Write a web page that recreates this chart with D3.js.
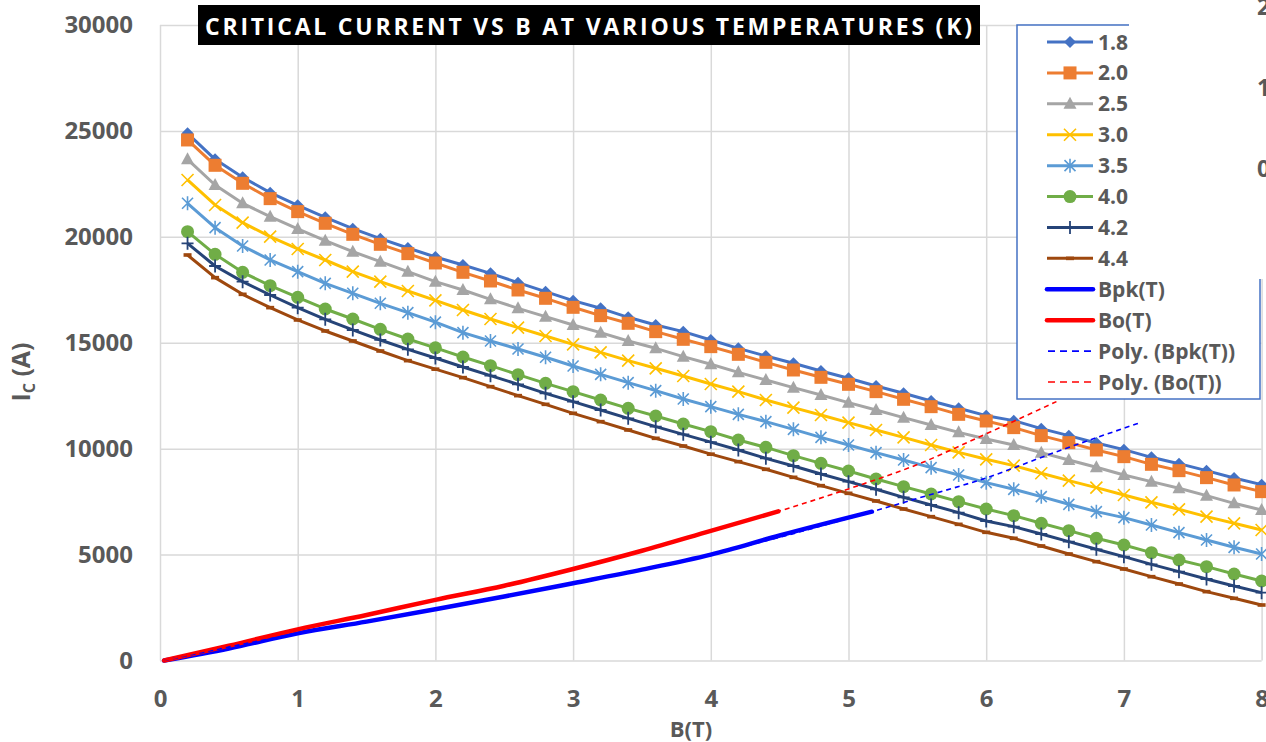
<!DOCTYPE html>
<html>
<head>
<meta charset="utf-8">
<script src="https://cdn.jsdelivr.net/npm/d3@7"></script>
<style>
  body { margin: 0; background: #fff; }
  svg { display: block; font-family: "Open Sans", "Liberation Sans", sans-serif; }
</style>
</head>
<body>
<svg id="chart" width="1266" height="742"></svg>
<script>
// ---- data -------------------------------------------------------------
const fieldB = [0.2, 0.4, 0.6, 0.8, 1.0, 1.2, 1.4, 1.6, 1.8, 2.0,
                2.2, 2.4, 2.6, 2.8, 3.0, 3.2, 3.4, 3.6, 3.8, 4.0,
                4.2, 4.4, 4.6, 4.8, 5.0, 5.2, 5.4, 5.6, 5.8, 6.0,
                6.2, 6.4, 6.6, 6.8, 7.0, 7.2, 7.4, 7.6, 7.8, 8.0];

const ic18 = [24887, 23660, 22810, 22086, 21488, 20922, 20387, 19915, 19474, 19050,
              18672, 18278, 17838, 17413, 16988, 16626, 16201, 15839, 15524, 15131,
              14737, 14375, 14029, 13667, 13321, 12959, 12613, 12251, 11905, 11558,
              11323, 10945, 10614, 10268, 9953, 9591, 9292, 8962, 8616, 8301];
const ic20 = [24573, 23377, 22527, 21803, 21189, 20639, 20119, 19647, 19207, 18766,
              18325, 17916, 17491, 17098, 16673, 16280, 15918, 15524, 15162, 14816,
              14454, 14076, 13714, 13368, 13038, 12692, 12330, 11983, 11621, 11307,
              10993, 10615, 10284, 9938, 9623, 9261, 8962, 8632, 8286, 7971];
const ic25 = [23660, 22448, 21583, 20953, 20371, 19820, 19301, 18829, 18357, 17884,
              17491, 17051, 16626, 16232, 15839, 15477, 15083, 14737, 14344, 13982,
              13604, 13242, 12880, 12534, 12172, 11826, 11464, 11118, 10771, 10457,
              10174, 9812, 9466, 9120, 8758, 8443, 8128, 7782, 7420, 7106];
const ic30 = [22684, 21504, 20670, 20009, 19427, 18907, 18357, 17884, 17444, 17003,
              16547, 16122, 15713, 15320, 14926, 14548, 14155, 13793, 13431, 13053,
              12692, 12298, 11936, 11590, 11228, 10882, 10535, 10174, 9827, 9497,
              9199, 8837, 8490, 8160, 7814, 7467, 7137, 6791, 6476, 6161];
const ic35 = [21583, 20434, 19568, 18907, 18357, 17806, 17334, 16862, 16421, 15972,
              15477, 15083, 14706, 14313, 13903, 13510, 13116, 12739, 12345, 11983,
              11621, 11275, 10913, 10535, 10174, 9812, 9465, 9104, 8757, 8395,
              8081, 7735, 7373, 7027, 6744, 6397, 6036, 5689, 5343, 5028];
const ic40 = [20245, 19175, 18325, 17696, 17145, 16594, 16122, 15634, 15178, 14760,
              14328, 13919, 13494, 13085, 12691, 12298, 11904, 11543, 11165, 10803,
              10410, 10063, 9670, 9308, 8946, 8568, 8207, 7860, 7498, 7152,
              6838, 6476, 6130, 5768, 5453, 5091, 4745, 4430, 4084, 3753];
const ic42 = [19694, 18624, 17884, 17255, 16657, 16106, 15603, 15131, 14690, 14281,
              13856, 13447, 13038, 12613, 12220, 11826, 11433, 11039, 10677, 10307,
              9937, 9544, 9182, 8804, 8443, 8081, 7703, 7341, 6979, 6586,
              6319, 5972, 5611, 5249, 4902, 4540, 4194, 3848, 3517, 3203];
const ic44 = [19143, 18073, 17286, 16657, 16075, 15556, 15084, 14611, 14155, 13753,
              13353, 12928, 12503, 12093, 11669, 11275, 10882, 10488, 10126, 9740,
              9387, 9025, 8647, 8254, 7892, 7530, 7152, 6790, 6428, 6051,
              5768, 5406, 5028, 4666, 4320, 3958, 3612, 3250, 2935, 2620];

const tempLabels = ["1.8", "2.0", "2.5", "3.0", "3.5", "4.0", "4.2", "4.4"];

// peak field and bore field load lines
const bpkB = [0.03, 0.5, 1.0, 1.5, 2.0, 2.5, 3.0, 3.5, 4.0, 4.5, 5.17];
const bpkI = [0, 570, 1280, 1835, 2420, 3020, 3650, 4290, 5000, 5900, 7025];
const boB  = [0.03, 0.5, 1.0, 1.5, 2.0, 2.5, 3.0, 3.5, 4.0, 4.49];
const boI  = [0, 700, 1470, 2150, 2860, 3530, 4320, 5180, 6120, 7040];

// polynomial trend lines (fit range plus forward forecast)
const bpkFitB = [0.03, 1.0, 2.0, 3.0, 4.0, 5.17, 5.5, 6.0, 6.5, 7.12];
const bpkFitI = [0, 1280, 2420, 3650, 5000, 7025, 7650, 8620, 9830, 11230];
const boFitB  = [0.03, 1.0, 2.0, 3.0, 4.0, 4.49, 5.0, 5.5, 6.0, 6.51];
const boFitI  = [0, 1470, 2860, 4320, 6120, 7040, 8100, 9250, 10700, 12220];

const xTicks = [0, 1, 2, 3, 4, 5, 6, 7, 8];
const yTicks = [0, 5000, 10000, 15000, 20000, 25000, 30000];
const sideTicks = ["2", "1", "0"];

// ---- layout -----------------------------------------------------------
const svg = d3.select("#chart");
const L = 160, R = 1261.6, T = 25, Bt = 660.5;
const x = d3.scaleLinear().domain([0, 8]).range([L, R]);
const y = d3.scaleLinear().domain([0, 30000]).range([Bt, T]);
const GRID = "#d9d9d9", TXT = "#595959";

// gridlines
svg.append("g").attr("transform", `translate(0,${Bt})`)
  .call(d3.axisBottom(x).tickValues(xTicks).tickSize(-(Bt - T)).tickFormat(""))
  .call(g => g.select(".domain").remove())
  .call(g => g.selectAll("line").attr("stroke", GRID).attr("stroke-width", 1.5));
svg.append("g").attr("transform", `translate(${L},0)`)
  .call(d3.axisLeft(y).tickValues(yTicks).tickSize(-(R - L)).tickFormat(""))
  .call(g => g.select(".domain").remove())
  .call(g => g.selectAll("line").attr("stroke", GRID).attr("stroke-width", 1.5));

// tick labels
svg.append("g").attr("transform", `translate(0,${Bt})`)
  .call(d3.axisBottom(x).tickValues(xTicks).tickSize(0).tickPadding(29).tickFormat(d3.format("d")))
  .call(g => g.select(".domain").remove())
  .call(g => g.selectAll("text").attr("fill", TXT).attr("font-size", 24).attr("font-weight", 700)
    .attr("font-family", '"Open Sans", sans-serif'));
svg.append("g").attr("transform", `translate(${L},0)`)
  .call(d3.axisLeft(y).tickValues(yTicks).tickSize(0).tickPadding(27).tickFormat(d3.format("d")))
  .call(g => g.select(".domain").remove())
  .call(g => g.selectAll("text").attr("fill", TXT).attr("font-size", 24).attr("font-weight", 700)
    .attr("font-family", '"Open Sans", sans-serif'));

// axis titles
svg.append("text").attr("x", 691).attr("y", 737).attr("text-anchor", "middle")
  .attr("fill", TXT).attr("font-size", 22).attr("font-weight", 700).text("B(T)");
const yt = svg.append("text").attr("transform", "translate(30,372) rotate(-90)")
  .attr("text-anchor", "middle").attr("fill", TXT).attr("font-size", 25).attr("font-weight", 700);
yt.append("tspan").text("I");
yt.append("tspan").attr("font-size", 16).attr("dy", 5).text("C");
yt.append("tspan").attr("dy", -5).text(" (A)");

// ---- marker shapes ------------------------------------------------------
const markerDefs = [
  { color: "#4472C4", shape: "diamond" },
  { color: "#ED7D31", shape: "square" },
  { color: "#A5A5A5", shape: "triangle" },
  { color: "#FFC000", shape: "x" },
  { color: "#5B9BD5", shape: "star" },
  { color: "#70AD47", shape: "circle" },
  { color: "#264478", shape: "plus" },
  { color: "#9E480E", shape: "dash" }
];
function drawMarker(g, shape, color) {
  switch (shape) {
    case "diamond":
      g.append("path").attr("d", "M0,-6L6,0L0,6L-6,0Z").attr("fill", color); break;
    case "square":
      g.append("rect").attr("x", -6.5).attr("y", -6.5).attr("width", 13).attr("height", 13).attr("fill", color); break;
    case "triangle":
      g.append("path").attr("d", "M0,-7L6.5,5L-6.5,5Z").attr("fill", color); break;
    case "x":
      g.append("path").attr("d", "M-6,-6L6,6M-6,6L6,-6").attr("stroke", color).attr("stroke-width", 1.6).attr("fill", "none"); break;
    case "star":
      g.append("path").attr("d", "M-5.5,-5.5L5.5,5.5M-5.5,5.5L5.5,-5.5M0,-7L0,7").attr("stroke", color).attr("stroke-width", 1.6).attr("fill", "none"); break;
    case "circle":
      g.append("circle").attr("r", 6.5).attr("fill", color); break;
    case "plus":
      g.append("path").attr("d", "M0,-6.5L0,6.5M-6,0L6,0").attr("stroke", color).attr("stroke-width", 1.8).attr("fill", "none"); break;
    case "dash":
      g.append("rect").attr("x", -4).attr("y", -1.8).attr("width", 8).attr("height", 3.6).attr("fill", color); break;
  }
}

// ---- temperature series ---------------------------------------------------
const icSeries = [ic18, ic20, ic25, ic30, ic35, ic40, ic42, ic44];
const lineGen = d3.line().x(d => x(d[0])).y(d => y(d[1]));
icSeries.forEach((vals, i) => {
  const pts = fieldB.map((b, k) => [b, vals[k]]);
  const g = svg.append("g");
  g.append("path").attr("d", lineGen(pts)).attr("fill", "none")
    .attr("stroke", markerDefs[i].color).attr("stroke-width", 3).attr("stroke-linejoin", "round");
  g.selectAll("g.m").data(pts).join("g").attr("class", "m")
    .attr("transform", d => `translate(${x(d[0])},${y(d[1])})`)
    .each(function () { drawMarker(d3.select(this), markerDefs[i].shape, markerDefs[i].color); });
});

// ---- load lines -------------------------------------------------------------
const smooth = d3.line().x(d => x(d[0])).y(d => y(d[1])).curve(d3.curveMonotoneX);
svg.append("path").attr("d", smooth(bpkB.map((b, k) => [b, bpkI[k]])))
  .attr("fill", "none").attr("stroke", "#0000FF").attr("stroke-width", 4.5).attr("stroke-linecap", "round");
svg.append("path").attr("d", smooth(boB.map((b, k) => [b, boI[k]])))
  .attr("fill", "none").attr("stroke", "#FF0000").attr("stroke-width", 4.5).attr("stroke-linecap", "round");
svg.append("path").attr("d", smooth(bpkFitB.map((b, k) => [b, bpkFitI[k]])))
  .attr("fill", "none").attr("stroke", "#0000FF").attr("stroke-width", 1.6).attr("stroke-dasharray", "5,4");
svg.append("path").attr("d", smooth(boFitB.map((b, k) => [b, boFitI[k]])))
  .attr("fill", "none").attr("stroke", "#FF0000").attr("stroke-width", 1.6).attr("stroke-dasharray", "5,4");

// ---- title ------------------------------------------------------------------
svg.append("rect").attr("x", 198).attr("y", 5).attr("width", 782).attr("height", 40).attr("fill", "#000");
svg.append("text").attr("x", 205).attr("y", 35)
  .attr("textLength", 767).attr("lengthAdjust", "spacing")
  .attr("fill", "#fff").attr("font-size", 23).attr("font-weight", 700)
  .text("CRITICAL CURRENT VS B AT VARIOUS TEMPERATURES (K)");

// ---- legend -------------------------------------------------------------------
const leg = svg.append("g");
leg.append("rect").attr("x", 1017).attr("y", 25).attr("width", 243).attr("height", 374)
  .attr("fill", "#fff").attr("stroke", "#4472C4").attr("stroke-width", 1.5);
const legendRows = tempLabels.map((t, i) => ({ label: t, kind: "series", i }))
  .concat([
    { label: "Bpk(T)", kind: "solid", color: "#0000FF" },
    { label: "Bo(T)", kind: "solid", color: "#FF0000" },
    { label: "Poly. (Bpk(T))", kind: "dash", color: "#0000FF" },
    { label: "Poly. (Bo(T))", kind: "dash", color: "#FF0000" }
  ]);
const rowY = d3.scaleLinear().domain([0, 11]).range([42, 382]);
legendRows.forEach((r, k) => {
  const cy = rowY(k);
  const g = leg.append("g").attr("transform", `translate(0,${cy})`);
  if (r.kind === "series") {
    const m = markerDefs[r.i];
    g.append("line").attr("x1", 1047).attr("x2", 1093).attr("stroke", m.color).attr("stroke-width", 3);
    drawMarker(g.append("g").attr("transform", "translate(1070,0)"), m.shape, m.color);
  } else if (r.kind === "solid") {
    g.append("line").attr("x1", 1047).attr("x2", 1093).attr("stroke", r.color).attr("stroke-width", 4.5).attr("stroke-linecap", "round");
  } else {
    g.append("line").attr("x1", 1048).attr("x2", 1093).attr("stroke", r.color).attr("stroke-width", 1.6).attr("stroke-dasharray", "7,5");
  }
  g.append("text").attr("x", 1098).attr("dy", "0.36em").attr("fill", TXT)
    .attr("font-size", 21).attr("font-weight", 700).text(r.label);
});

// neighbouring panel edge, with its axis labels clipped at the page border
svg.append("rect").attr("x", 1129).attr("y", 0).attr("width", 137).attr("height", 279).attr("fill", "#fff");
const sideY = d3.scaleLinear().domain([0, 2]).range([15, 177]);
sideTicks.forEach((t, k) => {
  svg.append("text").attr("x", 1257).attr("y", sideY(k)).attr("fill", TXT)
    .attr("font-size", 23).attr("font-weight", 700).text(t);
});
</script>
</body>
</html>
